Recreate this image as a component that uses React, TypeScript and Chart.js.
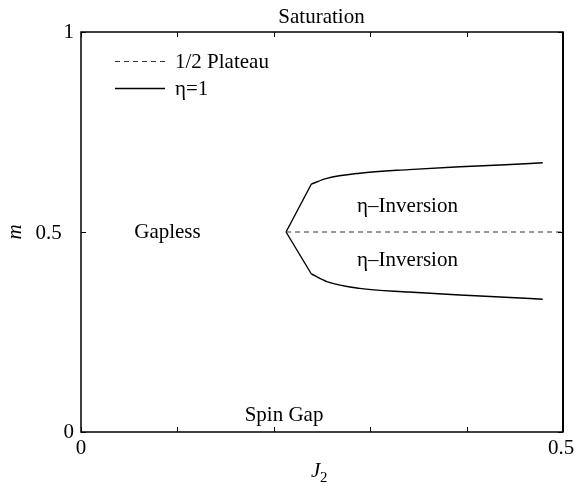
import React, { useEffect, useRef } from "react";
import { Chart, registerables } from "chart.js";

Chart.register(...registerables);

// ---- data ----
const upperJ = [0.2127, 0.239, 0.255, 0.289, 0.34, 0.393, 0.44, 0.479];
const upperM = [0.5, 0.62, 0.634, 0.647, 0.656, 0.663, 0.668, 0.673];
const lowerJ = [0.2127, 0.239, 0.255, 0.289, 0.34, 0.393, 0.44, 0.479];
const lowerM = [0.5, 0.395, 0.376, 0.359, 0.35, 0.3425, 0.337, 0.332];
const plateauJ = [0.2127, 0.5];
const plateauM = [0.5, 0.5];

const xTicks = [0, 0.1, 0.2, 0.3, 0.4, 0.5];
const xTickLabels = ["0", "", "", "", "", "0.5"];
const yTicks = [0, 0.5, 1];
const yTickLabels = ["0", "0.5", "1"];
const legendLabels = ["1/2 Plateau", "\u03b7=1"];
const regionLabels = ["Saturation", "Gapless", "\u03b7\u2013Inversion", "\u03b7\u2013Inversion", "Spin Gap"];

const FONT = '"Liberation Serif", "Times New Roman", serif';

const zip = (xs: number[], ys: number[]) => xs.map((x, i) => ({ x, y: ys[i] }));

const decorPlugin = {
  id: "decor",
  afterDraw(chart: any) {
    const ctx = chart.ctx as CanvasRenderingContext2D;
    const { left, right, top, bottom } = chart.chartArea;
    const xs = chart.scales.x;
    const ys = chart.scales.y;
    ctx.save();
    // frame
    ctx.strokeStyle = "#000";
    ctx.lineWidth = 1.5;
    ctx.strokeRect(left, top, right - left, bottom - top);
    ctx.lineWidth = 2;
    ctx.beginPath();
    ctx.moveTo(right, top);
    ctx.lineTo(right, bottom);
    ctx.stroke();
    // ticks inward
    ctx.lineWidth = 1;
    xTicks.forEach((v) => {
      const px = Math.round(xs.getPixelForValue(v)) + 0.5;
      ctx.beginPath();
      ctx.moveTo(px, bottom);
      ctx.lineTo(px, bottom - 5);
      ctx.moveTo(px, top);
      ctx.lineTo(px, top + 5);
      ctx.stroke();
    });
    yTicks.forEach((v) => {
      const py = Math.round(ys.getPixelForValue(v)) + 0.5;
      ctx.beginPath();
      ctx.moveTo(left, py);
      ctx.lineTo(left + 5, py);
      ctx.moveTo(right, py);
      ctx.lineTo(right - 5, py);
      ctx.stroke();
    });
    // tick labels
    ctx.fillStyle = "#000";
    ctx.font = `21px ${FONT}`;
    ctx.textBaseline = "middle";
    yTicks.forEach((v, i) => {
      const py = ys.getPixelForValue(v);
      const label = yTickLabels[i];
      if (label.length > 1) {
        ctx.textAlign = "center";
        ctx.fillText(label, 48.5, py + 1);
      } else {
        ctx.textAlign = "right";
        ctx.fillText(label, left - 7, py);
      }
    });
    ctx.textAlign = "center";
    xTicks.forEach((v, i) => {
      const label = xTickLabels[i];
      if (!label) return;
      const px = xs.getPixelForValue(v);
      ctx.fillText(label, label.length > 1 ? px - 2 : px, bottom + 16);
    });
    // axis titles
    ctx.font = `italic 21px ${FONT}`;
    ctx.textAlign = "left";
    ctx.textBaseline = "alphabetic";
    ctx.fillText("J", 311, 477);
    ctx.font = `15px ${FONT}`;
    ctx.fillText("2", 320, 482);
    ctx.save();
    ctx.translate(15, 232);
    ctx.rotate(-Math.PI / 2);
    ctx.font = `italic 21px ${FONT}`;
    ctx.textAlign = "center";
    ctx.textBaseline = "middle";
    ctx.fillText("m", 0, 0);
    ctx.restore();
    // region labels
    ctx.font = `21px ${FONT}`;
    ctx.textAlign = "center";
    ctx.textBaseline = "middle";
    const pos = [
      [0.2495, 1.0375],
      [0.0897, 0.5],
      [0.3387, 0.563],
      [0.3387, 0.43],
      [0.2106, 0.0425],
    ];
    regionLabels.forEach((t, i) => {
      ctx.fillText(t, xs.getPixelForValue(pos[i][0]), ys.getPixelForValue(pos[i][1]));
    });
    // legend
    ctx.textAlign = "left";
    const legendY = [61, 88];
    chart.data.datasets.slice(0, 2).forEach((ds: any, i: number) => {
      ctx.strokeStyle = ds.borderColor;
      ctx.lineWidth = ds.borderWidth;
      ctx.setLineDash(ds.borderDash || []);
      ctx.beginPath();
      ctx.moveTo(115, legendY[i] + 0.5);
      ctx.lineTo(165, legendY[i] + 0.5);
      ctx.stroke();
      ctx.setLineDash([]);
      ctx.fillText(legendLabels[i], 175, legendY[i] + 1);
    });
    ctx.restore();
  },
};

const solid = (label: string, data: { x: number; y: number }[], smooth: boolean) => ({
  label,
  data,
  showLine: true,
  borderColor: "#000",
  borderWidth: 1.4,
  pointRadius: 0,
  cubicInterpolationMode: smooth ? ("monotone" as const) : ("default" as const),
  tension: smooth ? 0.4 : 0,
});

export default function App() {
  const ref = useRef<HTMLCanvasElement>(null);
  useEffect(() => {
    if (!ref.current) return;
    const upper = zip(upperJ, upperM);
    const lower = zip(lowerJ, lowerM);
    const chart = new Chart(ref.current, {
      type: "scatter",
      data: {
        datasets: [
          {
            label: legendLabels[0],
            data: zip(plateauJ, plateauM),
            showLine: true,
            borderColor: "#333",
            borderWidth: 1,
            borderDash: [5, 4],
            pointRadius: 0,
          },
          solid(legendLabels[1], upper.slice(1), true),
          solid("upper cusp", upper.slice(0, 2), false),
          solid("lower", lower.slice(1), true),
          solid("lower cusp", lower.slice(0, 2), false),
        ] as any,
      },
      options: {
        animation: false,
        responsive: false,
        devicePixelRatio: 1,
        layout: { padding: { left: 0, top: 32, right: 11, bottom: 0 } },
        plugins: { legend: { display: false }, tooltip: { enabled: false } },
        scales: {
          x: {
            type: "linear",
            min: 0,
            max: 0.5,
            ticks: { display: false },
            grid: { display: false },
            border: { display: false },
            afterFit: (s: any) => {
              s.height = 54;
            },
          },
          y: {
            type: "linear",
            min: 0,
            max: 1,
            ticks: { display: false },
            grid: { display: false },
            border: { display: false },
            afterFit: (s: any) => {
              s.width = 81;
            },
          },
        },
      },
      plugins: [decorPlugin],
    });
    return () => chart.destroy();
  }, []);
  return (
    <div style={{ position: "fixed", left: 0, top: 0, width: 574, height: 486, background: "#fff" }}>
      <canvas ref={ref} width={574} height={486} style={{ display: "block" }} />
    </div>
  );
}
